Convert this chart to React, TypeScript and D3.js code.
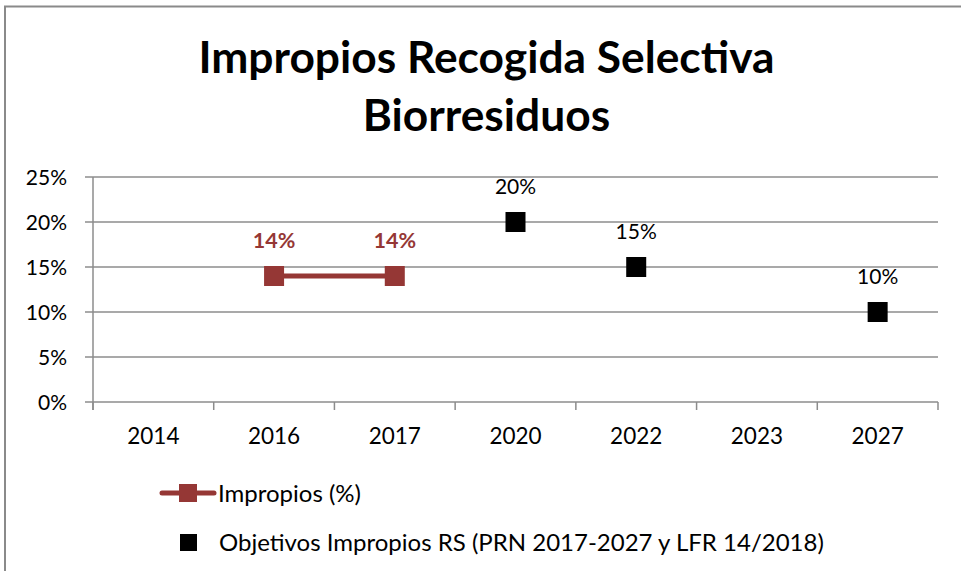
import React from "react";
import * as d3 from "d3";

const categories = ["2014", "2016", "2017", "2020", "2022", "2023", "2027"];
const impropios: { year: string; value: number }[] = [
  { year: "2016", value: 0.14 },
  { year: "2017", value: 0.14 },
];
const objetivos: { year: string; value: number }[] = [
  { year: "2020", value: 0.2 },
  { year: "2022", value: 0.15 },
  { year: "2027", value: 0.1 },
];
const yTicks = [0, 0.05, 0.1, 0.15, 0.2, 0.25];
const titleLines = ["Impropios Recogida Selectiva", "Biorresiduos"];
const legendLabels = ["Impropios (%)", "Objetivos Impropios RS (PRN 2017-2027 y LFR 14/2018)"];

const W = 961;
const H = 571;
const FONT = "Lato, 'Open Sans', sans-serif";
const RED = "#953735";
const GRID = "#8c8c8c";

export default function App() {
  const x = d3.scaleBand<string>().domain(categories).range([93, 938]).padding(0);
  const y = d3.scaleLinear().domain([0, 0.25]).range([402, 177]);
  const cx = (c: string) => (x(c) as number) + x.bandwidth() / 2;
  const line = d3
    .line<{ year: string; value: number }>()
    .x((d) => cx(d.year))
    .y((d) => y(d.value));
  const fmt = d3.format(".0%");
  const boundaries = categories.map((c) => x(c) as number).concat([938]);
  const ms = 20;

  return (
    <svg
      width={W}
      height={H}
      style={{ position: "absolute", left: 0, top: 0, display: "block" }}
      fontFamily={FONT}
    >
      <rect x={0} y={0} width={W} height={H} fill="#fff" />
      <path d={`M5,${H + 5} V6.5 H${W + 5}`} fill="none" stroke="#8a8a8a" strokeWidth={2} />
      {titleLines.map((t, i) => (
        <text
          key={t}
          x={486.5}
          y={73 + i * 58}
          textAnchor="middle"
          fontWeight={700}
          fontSize={44.3}
          fill="#000"
        >
          {t}
        </text>
      ))}
      {yTicks.map((t) => (
        <g key={t}>
          <line x1={85} x2={938} y1={y(t)} y2={y(t)} stroke={GRID} strokeWidth={1.5} />
          <text x={67} y={y(t)} dy="0.36em" textAnchor="end" fontSize={21} fill="#000">
            {fmt(t)}
          </text>
        </g>
      ))}
      <line x1={93} x2={93} y1={177} y2={410} stroke={GRID} strokeWidth={1.5} />
      {boundaries.map((b, i) => (
        <line key={i} x1={b} x2={b} y1={402} y2={410} stroke={GRID} strokeWidth={1.5} />
      ))}
      {categories.map((c) => (
        <text key={c} x={cx(c)} y={444} textAnchor="middle" fontSize={22.5} fill="#000">
          {c}
        </text>
      ))}
      <path d={line(impropios) || ""} fill="none" stroke={RED} strokeWidth={5} />
      {impropios.map((d) => (
        <g key={d.year}>
          <rect x={cx(d.year) - ms / 2} y={y(d.value) - ms / 2} width={ms} height={ms} fill={RED} />
          <text
            x={cx(d.year)}
            y={y(d.value) - 28}
            textAnchor="middle"
            fontWeight={700}
            fontSize={21.5}
            fill={RED}
          >
            {fmt(d.value)}
          </text>
        </g>
      ))}
      {objetivos.map((d) => (
        <g key={d.year}>
          <rect x={cx(d.year) - ms / 2} y={y(d.value) - ms / 2} width={ms} height={ms} fill="#000" />
          <text x={cx(d.year)} y={y(d.value) - 28} textAnchor="middle" fontSize={21} fill="#000">
            {fmt(d.value)}
          </text>
        </g>
      ))}
      <g>
        <line x1={162} x2={214} y1={493} y2={493} stroke={RED} strokeWidth={5} strokeLinecap="round" />
        <rect x={179} y={484} width={18} height={18} fill={RED} />
        <text x={218} y={493} dy="0.36em" fontSize={24} fill="#000">
          {legendLabels[0]}
        </text>
        <rect x={180} y={534} width={17} height={17} fill="#000" />
        <text x={219} y={542} dy="0.36em" fontSize={24} fill="#000">
          {legendLabels[1]}
        </text>
      </g>
    </svg>
  );
}
